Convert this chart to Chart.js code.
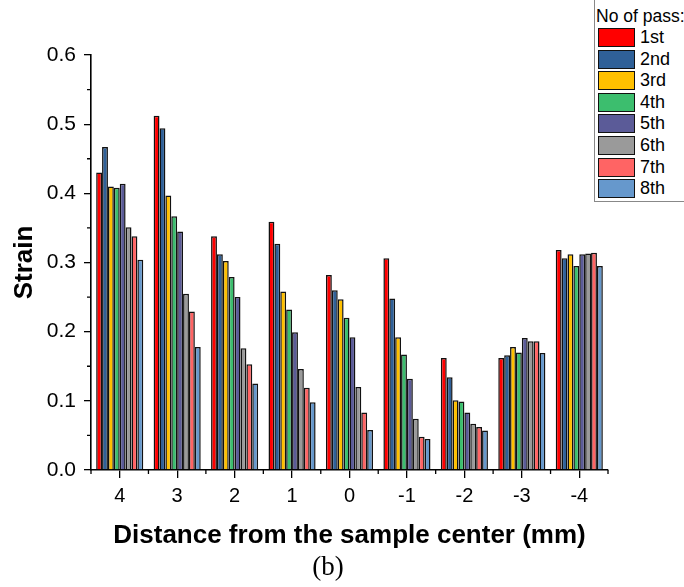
<!DOCTYPE html>
<html>
<head>
<meta charset="utf-8">
<script src="https://cdn.jsdelivr.net/npm/chart.js@4.4.1/dist/chart.umd.min.js"></script>
<style>
  html, body { margin:0; padding:0; background:#fff; overflow:hidden; }
  #wrap { position:relative; width:684px; height:587px; }
  #legend { position:absolute; left:594px; top:0px; width:100px; height:202px; border:1px solid #888; border-top:none; box-sizing:border-box; background:#fff; font-family:"Liberation Sans", Arial, sans-serif; }
  #legend .title { position:absolute; left:1px; top:6px; font-size:17.5px; white-space:nowrap; color:#000; }
  #legend .item { position:absolute; left:3px; height:18px; }
  #legend .sw { position:absolute; left:0; top:0; width:35px; height:17px; border:1.5px solid #111; }
  #legend .lab { position:absolute; left:42px; top:-1px; font-size:18px; white-space:nowrap; color:#000; }
  #caption { position:absolute; left:0; width:656px; top:551px; text-align:center; font-family:"Liberation Serif", "Times New Roman", serif; font-size:27px; color:#000; }
</style>
</head>
<body>
<div id="wrap">
  <canvas id="c" width="684" height="587"></canvas>
  <div id="legend"></div>
  <div id="caption">(b)</div>
</div>
<script>
const categories = ['4','3','2','1','0','-1','-2','-3','-4'];
const seriesNames = ['1st','2nd','3rd','4th','5th','6th','7th','8th'];
const pass1 = [0.430, 0.512, 0.338, 0.359, 0.282, 0.306, 0.162, 0.162, 0.318];
const pass2 = [0.467, 0.494, 0.312, 0.327, 0.260, 0.248, 0.134, 0.166, 0.306];
const pass3 = [0.410, 0.397, 0.302, 0.258, 0.247, 0.192, 0.101, 0.178, 0.312];
const pass4 = [0.408, 0.367, 0.279, 0.232, 0.220, 0.167, 0.099, 0.170, 0.295];
const pass5 = [0.414, 0.345, 0.250, 0.199, 0.192, 0.132, 0.083, 0.191, 0.312];
const pass6 = [0.351, 0.255, 0.176, 0.146, 0.120, 0.074, 0.067, 0.186, 0.313];
const pass7 = [0.338, 0.229, 0.153, 0.119, 0.083, 0.048, 0.062, 0.186, 0.314];
const pass8 = [0.304, 0.178, 0.125, 0.098, 0.058, 0.045, 0.057, 0.169, 0.295];
const yTicks = [0, 0.1, 0.2, 0.3, 0.4, 0.5, 0.6];
const colors = ['#FF0000','#2F6098','#FFC000','#3CBE6E','#5B5B98','#9A9A9A','#FF6464','#6698CC'];

const allSeries = [pass1, pass2, pass3, pass4, pass5, pass6, pass7, pass8];
const datasets = allSeries.map((d, i) => ({
  label: seriesNames[i],
  data: d,
  backgroundColor: colors[i],
  borderColor: '#111',
  borderWidth: 1.5,
  categoryPercentage: 0.82,
  barPercentage: 1.0
}));

// HTML legend built from the series arrays
const leg = document.getElementById('legend');
const t = document.createElement('div'); t.className = 'title'; t.textContent = 'No of pass:'; leg.appendChild(t);
seriesNames.forEach((n, i) => {
  const it = document.createElement('div'); it.className = 'item'; it.style.top = (28 + i * 21.6) + 'px';
  const sw = document.createElement('div'); sw.className = 'sw'; sw.style.background = colors[i];
  const lb = document.createElement('div'); lb.className = 'lab'; lb.textContent = n;
  it.appendChild(sw); it.appendChild(lb); leg.appendChild(it);
});

const minorTicks = {
  id: 'minorTicks',
  afterDraw(chart) {
    const ctx = chart.ctx, x = chart.scales.x, y = chart.scales.y, a = chart.chartArea;
    ctx.save();
    ctx.strokeStyle = '#000';
    ctx.lineWidth = 1.3;
    ctx.beginPath();
    for (let i = 0; i < yTicks.length - 1; i++) {
      const py = y.getPixelForValue((yTicks[i] + yTicks[i + 1]) / 2);
      ctx.moveTo(a.left - 4, py); ctx.lineTo(a.left, py);
    }
    for (let i = 0; i <= categories.length; i++) {
      let px;
      if (i === 0) px = a.left;
      else if (i === categories.length) px = a.right;
      else px = (x.getPixelForValue(i - 1) + x.getPixelForValue(i)) / 2;
      ctx.moveTo(px, a.bottom); ctx.lineTo(px, a.bottom + 4);
    }
    ctx.stroke();
    ctx.restore();
  }
};

new Chart(document.getElementById('c'), {
  type: 'bar',
  data: { labels: categories, datasets },
  options: {
    responsive: false,
    animation: false,
    layout: { padding: { top: 55, right: 76, left: 0, bottom: 0 } },
    plugins: { legend: { display: false }, tooltip: { enabled: false } },
    scales: {
      x: {
        grid: { display: true, drawOnChartArea: false, offset: false, tickLength: 8, color: '#000', lineWidth: 1.3 },
        border: { display: true, color: '#000', width: 1.6 },
        ticks: { color: '#000', font: { family: 'Liberation Sans', size: 20 }, padding: 6, maxRotation: 0 },
        title: { display: true, text: 'Distance from the sample center (mm)', color: '#000',
                 font: { family: 'Liberation Sans', size: 26, weight: 'bold' }, padding: { top: 0, bottom: 36 } },
        afterFit(s) { s.height = 117; }
      },
      y: {
        min: 0, max: 0.6,
        afterBuildTicks(s) { s.ticks = yTicks.map(v => ({ value: v })); },
        grid: { display: true, drawOnChartArea: false, tickLength: 7, color: '#000', lineWidth: 1.3 },
        border: { display: true, color: '#000', width: 1.6 },
        ticks: { color: '#000', font: { family: 'Liberation Sans', size: 21 }, padding: 8, callback: v => Number(v).toFixed(1) },
        title: { display: true, text: 'Strain', color: '#000',
                 font: { family: 'Liberation Sans', size: 26, weight: 'bold' }, padding: { top: 9, bottom: 0 } },
        afterFit(s) { s.width = 91; }
      }
    }
  },
  plugins: [minorTicks]
});
</script>
</body>
</html>
